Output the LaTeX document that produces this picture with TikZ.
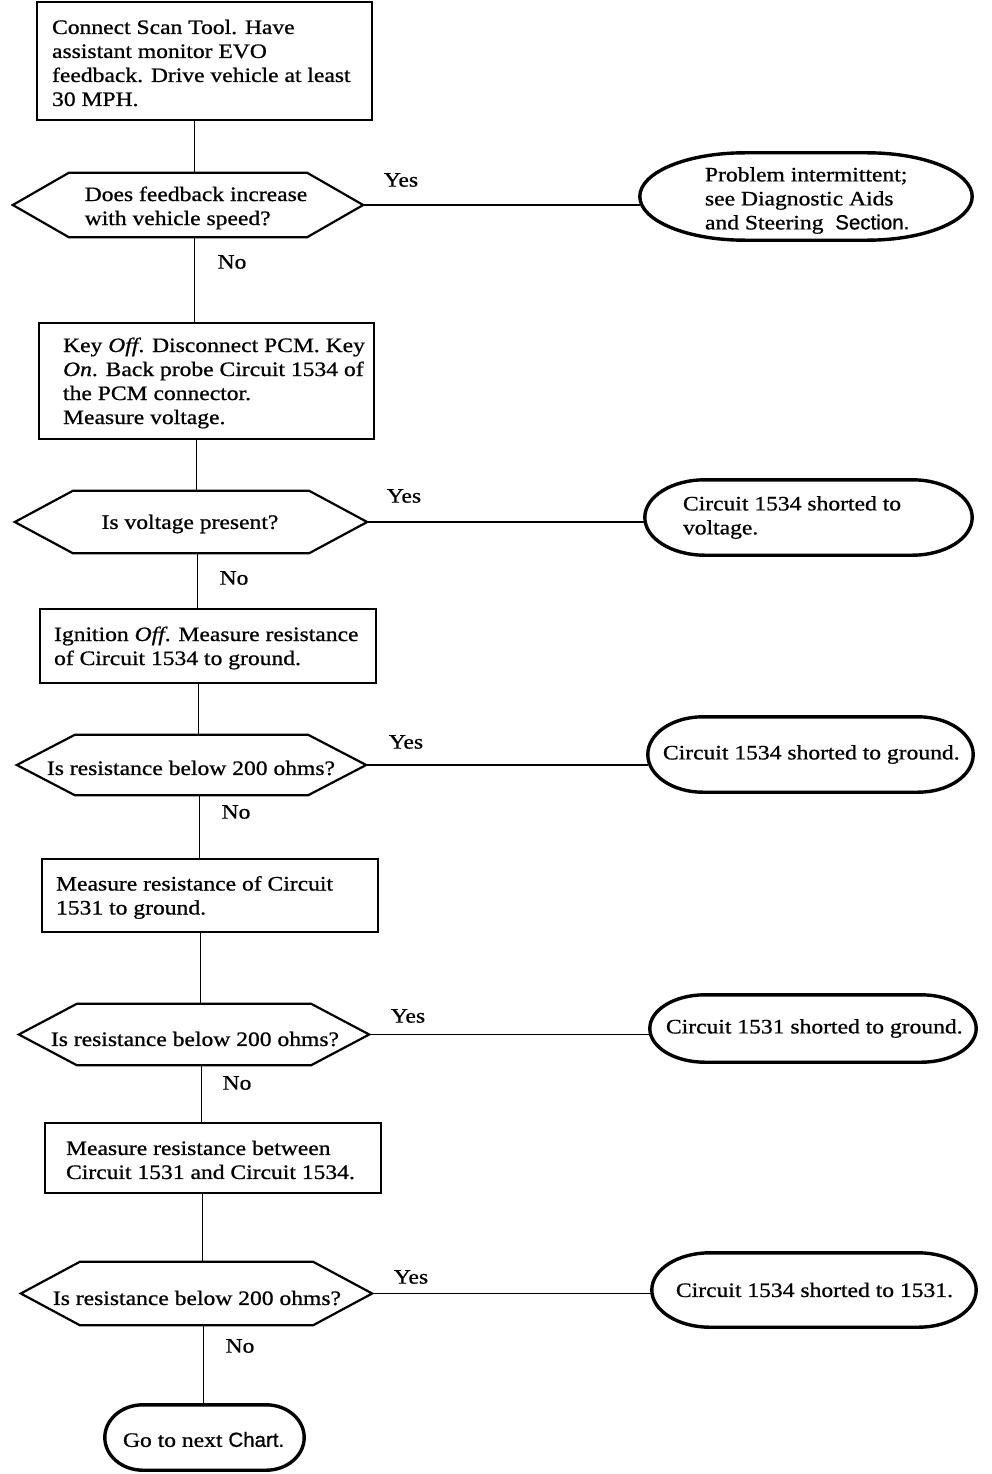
\documentclass[tikz,border=0pt]{standalone}
\usepackage{fontspec}
\setmainfont{Liberation Serif}[FakeStretch=1.15,FakeBold=0.8]
\newfontfamily\sansf{Liberation Sans}[FakeBold=0.8]
\usetikzlibrary{calc}
\tikzset{
  every node/.style={font=\fontsize{20.5}{24}\selectfont},
  procbox/.style={draw, line width=2.2pt, rectangle, inner sep=0pt},
  txt/.style={inner sep=0pt, align=left},
  dec/.style={inner sep=0pt, align=left},
  termnode/.style={inner sep=0pt},
  hexline/.style={line width=2.2pt, line join=miter},
  termline/.style={line width=3.4pt},
  vline/.style={line width=0.9pt},
  hline/.style={line width=1.8pt},
  lab/.style={inner sep=0pt}
}
\newcommand\hexag[2]{\draw[hexline] ([xshift=#2]#1.north west) -- ([xshift=-#2]#1.north east) -- (#1.east) -- ([xshift=-#2]#1.south east) -- ([xshift=#2]#1.south west) -- (#1.west) -- cycle;}
% #1 node, #2 horizontal radius of the rounded ends
\newcommand\termpath[2]{\draw[termline]
  (#1.west) .. controls ($(#1.west)!0.5523!(#1.north west)$) and ($(#1.north west)!0.4477!([xshift=#2]#1.north west)$) .. ([xshift=#2]#1.north west)
  -- ([xshift=-#2]#1.north east)
  .. controls ($(#1.north east)!0.4477!([xshift=-#2]#1.north east)$) and ($(#1.east)!0.5523!(#1.north east)$) .. (#1.east)
  .. controls ($(#1.east)!0.5523!(#1.south east)$) and ($(#1.south east)!0.4477!([xshift=-#2]#1.south east)$) .. ([xshift=-#2]#1.south east)
  -- ([xshift=#2]#1.south west)
  .. controls ($(#1.south west)!0.4477!([xshift=#2]#1.south west)$) and ($(#1.west)!0.5523!(#1.south west)$) .. (#1.west) -- cycle;}
\begin{document}
\begin{tikzpicture}[x=1pt,y=-1pt]
\useasboundingbox[fill=white] (0,0) rectangle (992,1474);

% ---- process boxes
\node[procbox, minimum width=335pt, minimum height=118pt] (b1) at (204.5,61) {};
\node[txt, anchor=west] (b1t) at ([xshift=16pt,yshift=-2pt]b1.west) {Connect Scan Tool. Have\\assistant monitor EVO\\feedback. Drive vehicle at least\\30 MPH.};

\node[procbox, minimum width=335pt, minimum height=116pt] (b2) at (206.5,381) {};
\node[txt, anchor=west] (b2t) at ([xshift=25pt,yshift=-2pt]b2.west) {Key \textit{Off}. Disconnect PCM. Key\\\textit{On}. Back probe Circuit 1534 of\\the PCM connector.\\Measure voltage.};

\node[procbox, minimum width=336pt, minimum height=74pt] (b3) at (208,646) {};
\node[txt, anchor=west] (b3t) at ([xshift=15pt,yshift=-2pt]b3.west) {Ignition \textit{Off}. Measure resistance\\of Circuit 1534 to ground.};

\node[procbox, minimum width=336pt, minimum height=73pt] (b4) at (210,895.5) {};
\node[txt, anchor=west] (b4t) at ([xshift=15pt,yshift=-2pt]b4.west) {Measure resistance of Circuit\\1531 to ground.};

\node[procbox, minimum width=336pt, minimum height=70pt] (b5) at (213,1158) {};
\node[txt, anchor=west] (b5t) at ([xshift=22pt,yshift=-2pt]b5.west) {Measure resistance between\\Circuit 1531 and Circuit 1534.};

% ---- decisions
\node[dec, minimum width=350pt, minimum height=64pt] (d1) at (188,205) {};
\node[dec] (d1t) at (196,208) {Does feedback increase\\with vehicle speed?};
\hexag{d1}{56pt}

\node[dec, minimum width=352pt, minimum height=62pt] (d2) at (191,522) {};
\node[dec] (d2t) at (190,524) {Is voltage present?};
\hexag{d2}{58pt}

\node[dec, minimum width=349pt, minimum height=60pt] (d3) at (191.5,765) {};
\node[dec] (d3t) at (191,768) {Is resistance below 200 ohms?};
\hexag{d3}{58pt}

\node[dec, minimum width=350pt, minimum height=61pt] (d4) at (194,1034.5) {};
\node[dec] (d4t) at (195,1039) {Is resistance below 200 ohms?};
\hexag{d4}{58pt}

\node[dec, minimum width=351pt, minimum height=63pt] (d5) at (196.5,1293.5) {};
\node[dec] (d5t) at (197,1298) {Is resistance below 200 ohms?};
\hexag{d5}{59pt}

% ---- terminals
\node[termnode, minimum width=332pt, minimum height=87pt] (t1) at (806,196.5) {};
\node[txt, anchor=west] (t1t) at ([xshift=65pt,yshift=-4pt]t1.west) {Problem intermittent;\\see Diagnostic Aids\\and Steering \ {\sansf Section.}};
\termpath{t1}{105pt}

\node[termnode, minimum width=327pt, minimum height=75pt] (t2) at (808.5,517.5) {};
\node[txt, anchor=west] (t2t) at ([xshift=38pt]t2.west) {Circuit 1534 shorted to\\voltage.};
\termpath{t2}{60pt}

\node[termnode, minimum width=325pt, minimum height=75pt] (t3) at (810.5,754.5) {};
\node[txt, anchor=west] (t3t) at ([xshift=15pt]t3.west) {Circuit 1534 shorted to ground.};
\termpath{t3}{55pt}

\node[termnode, minimum width=326pt, minimum height=67pt] (t4) at (813,1028.5) {};
\node[txt, anchor=west] (t4t) at ([xshift=16pt]t4.west) {Circuit 1531 shorted to ground.};
\termpath{t4}{55pt}

\node[termnode, minimum width=324pt, minimum height=74pt] (t5) at (814,1290) {};
\node[txt, anchor=west] (t5t) at ([xshift=24pt]t5.west) {Circuit 1534 shorted to 1531.};
\termpath{t5}{58pt}

\node[termnode, minimum width=199pt, minimum height=65pt] (t6) at (204.5,1437.5) {};
\node[txt, anchor=west] (t6t) at ([xshift=18pt,yshift=-2pt]t6.west) {Go to next {\sansf Chart.}};
\termpath{t6}{38pt}

% ---- labels
\node[lab] (y1) at (401,180) {Yes};
\node[lab] (y2) at (404,496) {Yes};
\node[lab] (y3) at (406,742) {Yes};
\node[lab] (y4) at (408,1016) {Yes};
\node[lab] (y5) at (411,1277) {Yes};
\node[lab] (n1) at (232,262) {No};
\node[lab] (n2) at (234,578) {No};
\node[lab] (n3) at (236,812) {No};
\node[lab] (n4) at (237,1083) {No};
\node[lab] (n5) at (240,1346) {No};

% ---- connectors
\draw[vline] ([xshift=6pt]d1.north |- b1.south) -- ([xshift=6pt]d1.north);
\draw[vline] ([xshift=6pt]d1.south) -- ([xshift=6pt]d1.south |- b2.north);
\draw[vline] ([xshift=5pt]d2.north |- b2.south) -- ([xshift=5pt]d2.north);
\draw[vline] ([xshift=6pt]d2.south) -- ([xshift=6pt]d2.south |- b3.north);
\draw[vline] ([xshift=7pt]d3.north |- b3.south) -- ([xshift=7pt]d3.north);
\draw[vline] ([xshift=8pt]d3.south) -- ([xshift=8pt]d3.south |- b4.north);
\draw[vline] ([xshift=6pt]d4.north |- b4.south) -- ([xshift=6pt]d4.north);
\draw[vline] ([xshift=7pt]d4.south) -- ([xshift=7pt]d4.south |- b5.north);
\draw[vline] ([xshift=6pt]d5.north |- b5.south) -- ([xshift=6pt]d5.north);
\draw[vline] ([xshift=7pt]d5.south) -- ([xshift=7pt]d5.south |- t6.north);

\draw[hline] (d1.east) -- (d1.east -| t1.west);
\draw[hline] (d2.east) -- (d2.east -| t2.west);
\draw[hline] (d3.east) -- (d3.east -| t3.west);
\draw[hline] (d4.east) -- (d4.east -| t4.west);
\draw[hline] (d5.east) -- (d5.east -| t5.west);
\end{tikzpicture}
\end{document}
